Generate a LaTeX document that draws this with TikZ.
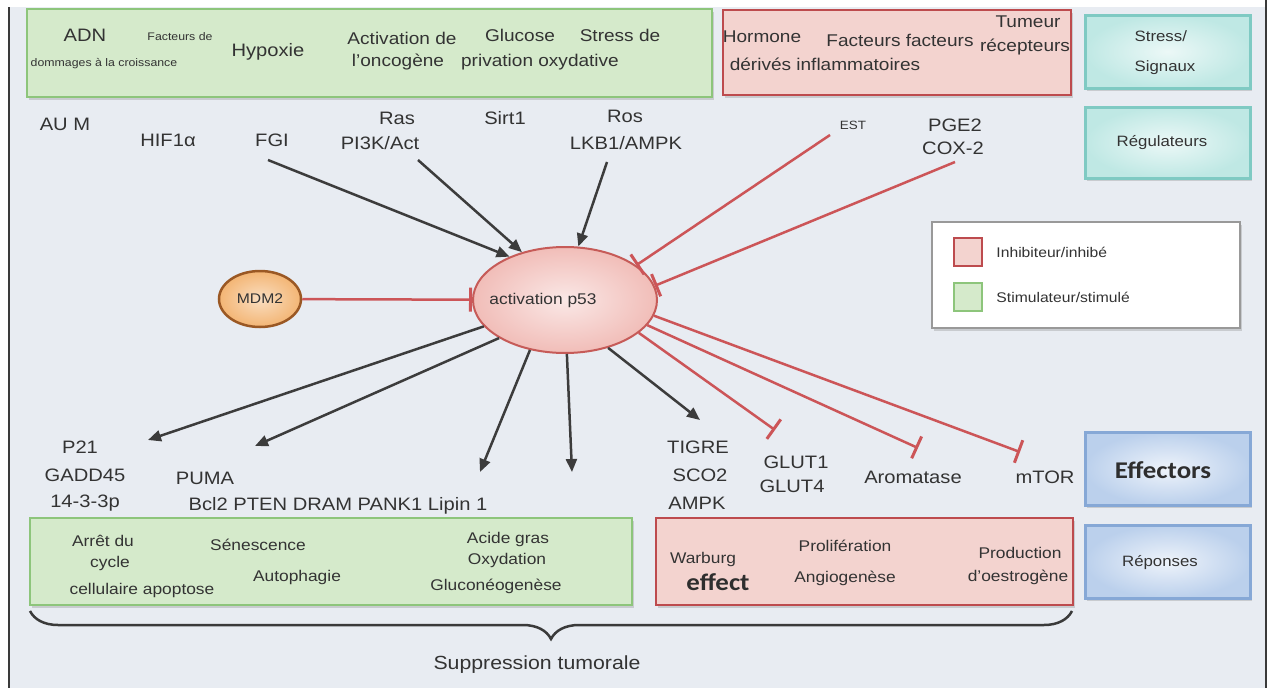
\documentclass[tikz,border=0pt]{standalone}
\usepackage{fontspec}
\setmainfont{Liberation Sans}[FakeStretch=1.12]
\newfontfamily\califont{Carlito}[FakeStretch=1.12]
\usepackage{tikz}
\usetikzlibrary{shapes.geometric, arrows.meta, positioning, shadows, decorations.pathreplacing, calc}
\definecolor{PageBg}{HTML}{E8ECF2}
\definecolor{FrameGray}{HTML}{3A3A3A}
\definecolor{TextGray}{HTML}{333333}
\definecolor{StimFill}{HTML}{D5EACB}
\definecolor{StimLine}{HTML}{8DC57B}
\definecolor{InhibFill}{HTML}{F3D3CF}
\definecolor{InhibLine}{HTML}{BD4B4E}
\definecolor{TealFill}{HTML}{BFE8E4}
\definecolor{TealLine}{HTML}{7FCAC3}
\definecolor{BlueFill}{HTML}{BBD0EC}
\definecolor{BlueLine}{HTML}{86A8D6}
\definecolor{P53Fill}{HTML}{F1BDB8}
\definecolor{P53Line}{HTML}{C65B58}
\definecolor{MdmFill}{HTML}{F3B574}
\definecolor{MdmLine}{HTML}{9A5824}
\definecolor{ArrowGray}{HTML}{3C3C3C}
\definecolor{InhibRed}{HTML}{CC5558}
\tikzset{
  greenbox/.style={rectangle, draw=StimLine, line width=2.5pt, fill=StimFill, drop shadow={shadow xshift=2pt, shadow yshift=-3pt, opacity=0.3}},
  redbox/.style={rectangle, draw=InhibLine, line width=2.5pt, fill=InhibFill, drop shadow={shadow xshift=2pt, shadow yshift=-3pt, opacity=0.3}},
  tealbox/.style={rectangle, draw=TealLine, line width=3pt, inner color=TealFill!30, outer color=TealFill, drop shadow={shadow xshift=2pt, shadow yshift=-3pt, opacity=0.3}},
  bluebox/.style={rectangle, draw=BlueLine, line width=3pt, inner color=BlueFill!25, outer color=BlueFill, drop shadow={shadow xshift=2pt, shadow yshift=-3pt, opacity=0.3}},
  keybox/.style={rectangle, draw=black!40, line width=2pt, fill=white, drop shadow={shadow xshift=2pt, shadow yshift=-3pt, opacity=0.3}},
  lbl/.style={inner sep=0pt, text=TextGray, font=\fontsize{18}{20}\selectfont},
  boxtxt/.style={inner sep=0pt, text=TextGray, font=\fontsize{15.5}{18}\selectfont},
  smalltxt/.style={inner sep=0pt, text=TextGray, font=\fontsize{11}{12}\selectfont},
  sidetxt/.style={inner sep=0pt, text=TextGray, font=\fontsize{15}{30}\selectfont},
  heavytxt/.style={inner sep=0pt, text=TextGray!90!black, font=\califont\bfseries\fontsize{24}{26}\selectfont},
  actarrow/.style={-{Triangle[length=13pt, width=11pt]}, line width=2.5pt, ArrowGray},
  inhibline/.style={-{Bar[width=24pt, line width=3pt]}, line width=2.5pt, InhibRed}
}
\begin{document}
\begin{tikzpicture}[x=1pt, y=-1pt]
  \useasboundingbox (0,0) rectangle (1270,688);
  % page
  \fill[white] (0,0) rectangle (1270,688);
  \fill[PageBg] (9,7) rectangle (1266,688);
  \draw[FrameGray, line width=2.5pt] (9,7) -- (9,688);
  \draw[FrameGray, line width=2.5pt] (1266,0) -- (1266,688);

  % Stress / signals row
  \node[greenbox, minimum width=685pt, minimum height=88pt] (stressbox) at (369.5,53) {};
  \node[redbox, minimum width=348pt, minimum height=85pt] (signalbox) at (897,52.5) {};
  \node[tealbox, minimum width=165pt, minimum height=73pt] (stresskey) at (1167.5,51.5) {};
  \node[sidetxt, align=left] (stresstxt) at (1165,53) {Stress/\\Signaux};
  \node[lbl] (adn) at (85,35) {ADN};
  \node[smalltxt] (facteurs) at (180,37) {Facteurs de};
  \node[smalltxt] (dommages) at (104,64) {dommages à la croissance};
  \node[lbl] (hypoxie) at (268,52) {Hypoxie};
  \node[boxtxt, font=\fontsize{17}{19}\selectfont] (activ) at (402,38) {Activation de};
  \node[boxtxt, font=\fontsize{17}{19}\selectfont] (onco) at (398,62) {l'oncogène};
  \node[boxtxt, font=\fontsize{17}{19}\selectfont] (glucose) at (520,35) {Glucose};
  \node[boxtxt, font=\fontsize{17}{19}\selectfont] (stressde) at (620,35) {Stress de};
  \node[boxtxt, font=\fontsize{17}{19}\selectfont] (privation) at (540,62) {privation oxydative};
  \node[boxtxt, font=\fontsize{17}{19}\selectfont] (hormone) at (762,37) {Hormone};
  \node[boxtxt, font=\fontsize{17}{19}\selectfont] (ffacteurs) at (900,40) {Facteurs facteurs};
  \node[boxtxt, font=\fontsize{17}{19}\selectfont] (tumeur) at (1028,22) {Tumeur};
  \node[boxtxt, font=\fontsize{17}{19}\selectfont] (recept) at (1025,47) {récepteurs};
  \node[boxtxt, font=\fontsize{17}{19}\selectfont] (derives) at (825,64) {dérivés inflammatoires};

  % Regulators
  \node[tealbox, minimum width=165pt, minimum height=71pt] (regkey) at (1167.5,142.5) {};
  \node[sidetxt] (regtxt) at (1162,143) {Régulateurs};
  \node[lbl] (aum) at (65,124) {AU M};
  \node[lbl] (hif) at (168,140) {HIF1α};
  \node[lbl] (fgi) at (272,140) {FGI};
  \node[lbl] (ras) at (397,118) {Ras};
  \node[lbl] (pi3k) at (380,143) {PI3K/Act};
  \node[lbl] (sirt) at (505,118) {Sirt1};
  \node[lbl] (ros) at (625,116) {Ros};
  \node[lbl] (lkb) at (626,143) {LKB1/AMPK};
  \node[smalltxt, font=\fontsize{12}{14}\selectfont] (est) at (853,125) {EST};
  \node[lbl] (pge) at (955,125) {PGE2};
  \node[lbl] (cox) at (953,148) {COX-2};

  % Legend
  \node[keybox, minimum width=308pt, minimum height=106pt] (legend) at (1086,275) {};
  \node[rectangle, draw=InhibLine, line width=2.5pt, fill=InhibFill, minimum size=28pt] (keyred) at (968,252) {};
  \node[rectangle, draw=StimLine, line width=2.5pt, fill=StimFill, minimum size=28pt] (keygreen) at (968,297) {};
  \node[boxtxt, font=\fontsize{14}{16}\selectfont, right=13pt of keyred] (keyredtxt) {Inhibiteur/inhibé};
  \node[boxtxt, font=\fontsize{14}{16}\selectfont, right=13pt of keygreen] (keygreentxt) {Stimulateur/stimulé};

  % p53 hub
  \node[ellipse, draw=P53Line, line width=2pt, inner color=P53Fill!35, outer color=P53Fill, minimum width=184pt, minimum height=106pt] (p53) at (565,300) {};
  \node[boxtxt] (p53txt) at (543,300) {activation p53};
  \node[ellipse, draw=MdmLine, line width=2.5pt, inner color=MdmFill!45, outer color=MdmFill, minimum width=82pt, minimum height=56pt, text=TextGray, font=\fontsize{14}{16}\selectfont] (mdm2) at (260,299) {MDM2};

  % Inputs
  \coordinate (infgi) at (268,160);
  \coordinate (inpi3k) at (418,160);
  \coordinate (inlkb) at (607,162);
  \coordinate (inest) at (830,135);
  \coordinate (inpge) at (955,162);
  \draw[actarrow] (infgi) -- (p53.142);
  \draw[actarrow] (inpi3k) -- (p53.132);
  \draw[actarrow] (inlkb) -- (p53.76);
  \draw[inhibline] (inest) -- (p53.26);
  \draw[inhibline] (inpge) -- (p53.9);
  \draw[inhibline] (mdm2) -- (p53);

  % Outputs
  \coordinate (outp21) at (148,440);
  \coordinate (outpuma) at (255,446);
  \coordinate (outbcl) at (480,472);
  \coordinate (outlip) at (572,472);
  \coordinate (outtig) at (700,420);
  \coordinate (outglut) at (775,430);
  \coordinate (outarom) at (918,448);
  \coordinate (outmtor) at (1020,452);
  \draw[actarrow] (p53.-162) -- (outp21);
  \draw[actarrow] (p53.-150) -- (outpuma);
  \draw[actarrow] (p53.-125) -- (outbcl);
  \draw[actarrow] (p53.-88) -- (outlip);
  \draw[actarrow] (p53.-48) -- (outtig);
  \draw[inhibline] (p53.-24) -- (outglut);
  \draw[inhibline] (p53.-17) -- (outarom);
  \draw[inhibline] (p53.-10) -- (outmtor);

  % Effectors
  \node[bluebox, minimum width=165pt, minimum height=73pt] (effkey) at (1167.5,468.5) {};
  \node[heavytxt] (efftxt) at (1163,470) {Effectors};
  \node[lbl] (p21) at (80,447) {P21};
  \node[lbl] (gadd) at (85,475) {GADD45};
  \node[lbl] (ptp) at (85,503) {14-3-3p};
  \node[lbl] (puma) at (205,478) {PUMA};
  \node[lbl] (bcl) at (338,506) {Bcl2 PTEN DRAM PANK1 Lipin 1};
  \node[lbl] (tigre) at (698,447) {TIGRE};
  \node[lbl] (sco) at (700,475) {SCO2};
  \node[lbl] (ampk) at (697,503) {AMPK};
  \node[lbl] (glutone) at (796,462) {GLUT1};
  \node[lbl] (gluttwo) at (792,486) {GLUT4};
  \node[lbl] (arom) at (913,477) {Aromatase};
  \node[lbl] (mtor) at (1045,477) {mTOR};

  % Responses
  \node[greenbox, minimum width=602pt, minimum height=87pt] (supbox) at (331,561.5) {};
  \node[redbox, minimum width=417pt, minimum height=87pt] (probox) at (864.5,561.5) {};
  \node[bluebox, minimum width=165pt, minimum height=73pt] (repkey) at (1167.5,561.5) {};
  \node[sidetxt] (reptxt) at (1160,563) {Réponses};
  \node[boxtxt] (arret) at (103,541) {Arrêt du};
  \node[boxtxt] (cycle) at (110,563) {cycle};
  \node[boxtxt] (cellul) at (142,590) {cellulaire apoptose};
  \node[boxtxt] (senes) at (258,545) {Sénescence};
  \node[boxtxt] (autoph) at (297,577) {Autophagie};
  \node[boxtxt] (acide) at (508,539) {Acide gras};
  \node[boxtxt] (oxyd) at (507,560) {Oxydation};
  \node[boxtxt] (gluco) at (496,586) {Gluconéogenèse};
  \node[boxtxt] (warburg) at (703,559) {Warburg};
  \node[heavytxt] (effect) at (718,582) {effect};
  \node[boxtxt] (prolif) at (845,546) {Prolifération};
  \node[boxtxt] (angio) at (845,578) {Angiogenèse};
  \node[boxtxt] (product) at (1020,553) {Production};
  \node[boxtxt] (oestro) at (1018,577) {d'oestrogène};

  % Tumour suppression
  \coordinate (braceleft) at (30,611);
  \coordinate (braceright) at (1072,611);
  \draw[decorate, decoration={brace, mirror, amplitude=28pt}, line width=2.5pt, FrameGray] (braceleft) -- (braceright);
  \node[lbl, font=\fontsize{19}{21}\selectfont] (suppr) at (537,665) {Suppression tumorale};
\end{tikzpicture}
\end{document}
